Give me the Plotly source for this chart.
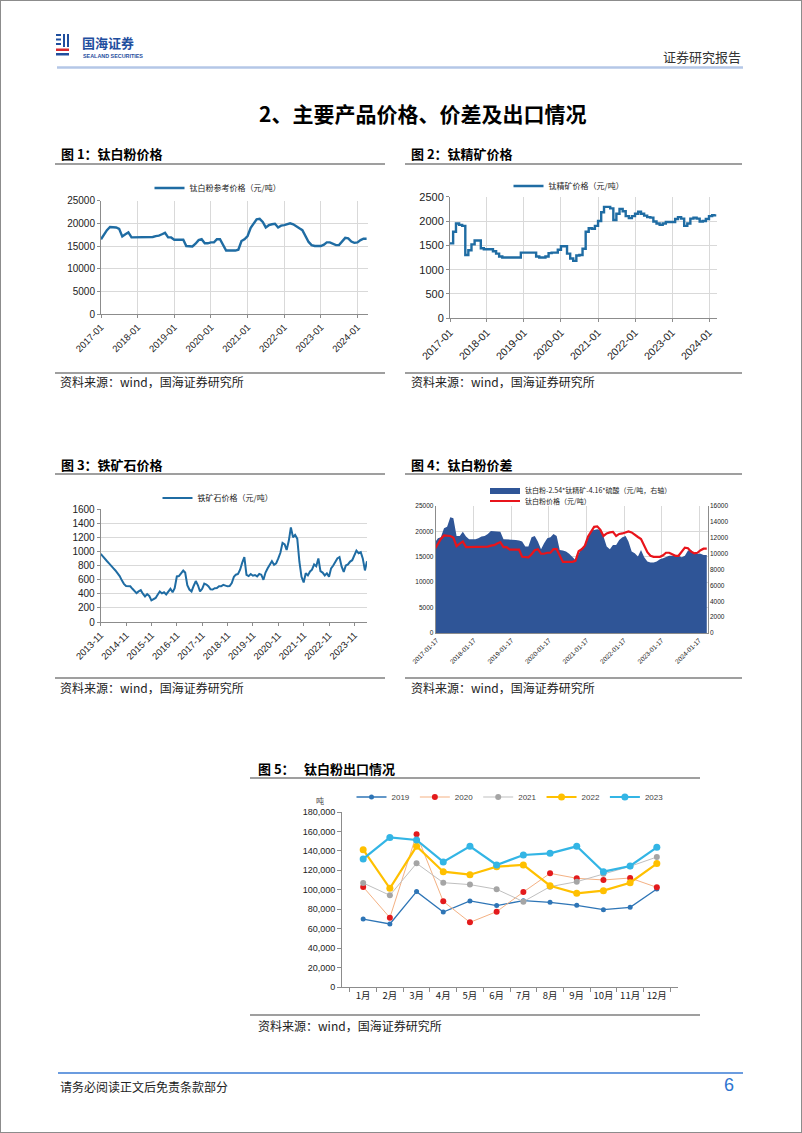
import pandas as pd
import plotly.graph_objects as go

W, H = 802, 1133

# ---------------- data ----------------
# 钛白粉参考价格（元/吨），月度 2017-01 ~ 2024-04
tio2_dates = pd.date_range('2017-01-01', periods=88, freq='MS')
tio2_price = [16500, 17500, 18500, 19200, 19200, 19100, 18800, 17100, 17600, 18000, 16900, 16900,
              16900, 16900, 17000, 17000, 17000, 17000, 17200, 17300, 17600, 17900, 16900, 16900,
              16400, 16400, 16400, 16400, 15000, 15000, 14900, 15500, 16300, 16500, 15600, 15600,
              15800, 15800, 16500, 16500, 15200, 14000, 14000, 14000, 14000, 14200, 16100, 16500,
              17200, 19000, 20000, 20900, 21000, 20300, 19100, 19600, 19800, 19900, 19100, 19500,
              19600, 19800, 20000, 19800, 19300, 18900, 18500, 17300, 15900, 15200, 15000, 15000,
              15000, 15300, 15800, 15800, 15500, 15200, 15200, 16000, 16800, 16700, 16000, 15700,
              15800, 16300, 16600, 16600]

# 钛精矿价格（元/吨），月度 2017-01 ~ 2024-03
ilm_dates = pd.date_range('2017-01-01', periods=87, freq='MS')
ilm_price = [1540, 1780, 1950, 1920, 1900, 1300, 1400, 1520, 1600, 1600, 1440, 1420,
             1420, 1420, 1380, 1330, 1270, 1250, 1250, 1250, 1250, 1250, 1250, 1350,
             1350, 1350, 1350, 1350, 1270, 1250, 1250, 1270, 1340, 1350, 1350, 1410,
             1480, 1480, 1330, 1230, 1180, 1290, 1300, 1430, 1780, 1850, 1840, 1900,
             2000, 2180, 2290, 2290, 2260, 2020, 2150, 2250, 2200, 2100, 2060, 2100,
             2150, 2190, 2150, 2110, 2080, 2070, 1990, 1950, 1920, 1950, 1980, 1980,
             1980, 2040, 2080, 2050, 1900, 1950, 2050, 2070, 2050, 1990, 2000, 2040,
             2100, 2120, 2140]

# 铁矿石价格（元/吨），月度 2013-11 ~ 2024-05
ore_dates = pd.date_range('2013-11-01', periods=127, freq='MS')
ore_price = [965, 930, 880, 860, 830, 790, 762, 730, 690, 650, 590, 540,
             510, 504, 505, 470, 440, 409, 433, 450, 400, 362, 395, 370,
             306, 320, 340, 390, 433, 405, 420, 390, 430, 470, 420, 480,
             645, 650, 690, 729, 700, 520, 460, 433, 510, 580, 520, 433,
             470, 545, 530, 504, 462, 460, 478, 480, 505, 505, 525, 510,
             505, 510, 551, 640, 670, 680, 740, 840, 920, 668, 650, 680,
             655, 665, 645, 680, 670, 598, 700, 760, 820, 860, 810, 830,
             900, 980, 1120, 1100, 1020, 1150, 1340, 1200, 1233, 1180, 850, 640,
             560, 690, 660, 715, 740, 815, 790, 900, 720, 700, 660, 690,
             640, 760, 800, 855, 900, 920, 786, 710, 800, 815, 856, 875,
             940, 1010, 975, 990, 900, 730, 860]

# 钛白粉-2.54*钛精矿-4.16*硫酸（元/吨，右轴），月度 2017-01 ~ 2024-04
spread = [11390, 11940, 12060, 13190, 13400, 14575, 14450, 12230, 12230, 12770, 12150, 11810,
          11810, 11810, 11940, 12150, 12230, 12480, 12860, 12860, 12830, 12770, 11810, 11810,
          11810, 11730, 11730, 11640, 11520, 10890, 10890, 12060, 12230, 11520, 10560, 11310,
          11940, 12060, 12480, 12230, 10470, 10390, 10260, 9970, 9630, 9210, 9970, 10680,
          10890, 12060, 12900, 12980, 13070, 12980, 12150, 10890, 10560, 11100, 11100, 11730,
          12060, 12230, 11520, 10260, 10050, 9630, 10470, 9550, 9000, 8880, 8880, 9000,
          9300, 9420, 9550, 9720, 9720, 9720, 9720, 9550, 9720, 10390, 10470, 9970,
          9970, 9970, 9840, 9840]

# 钛白粉出口（吨）
months = ['1月', '2月', '3月', '4月', '5月', '6月', '7月', '8月', '9月', '10月', '11月', '12月']
exp_2019 = [69900, 64800, 98100, 77100, 88500, 83700, 88800, 87100, 84000, 79500, 81900, 100800]
exp_2020 = [102900, 71300, 157000, 88100, 66500, 77500, 97700, 116900, 111800, 110100, 112100, 102500]
exp_2021 = [107000, 94300, 127200, 107300, 105300, 100500, 87800, 103200, 108300, 116600, 124100, 133700]
exp_2022 = [141300, 101500, 144700, 118600, 115500, 123800, 125500, 104200, 96300, 99100, 107300, 126900]
exp_2023 = [131700, 153900, 151200, 128600, 144700, 125500, 135800, 137500, 144700, 118600, 124500, 143700]

FONT = 'Liberation Sans, Noto Sans CJK SC, sans-serif'
CJK = 'Noto Sans CJK SC, sans-serif'
BLUE = '#1F6CA3'
GRID = '#D9D9D9'
AXIS = '#8C8C8C'


def dx(x0, x1):
    return [x0 / W, x1 / W]


def dy(y0, y1):
    return [1 - y1 / H, 1 - y0 / H]


fig = go.Figure()

# 图1
fig.add_trace(go.Scatter(x=tio2_dates, y=tio2_price, mode='lines', name='钛白粉参考价格（元/吨）',
                         line=dict(color=BLUE, width=2.4), xaxis='x', yaxis='y', legend='legend'))
# 图2
fig.add_trace(go.Scatter(x=ilm_dates, y=ilm_price, mode='lines', name='钛精矿价格（元/吨）',
                         line=dict(color=BLUE, width=2.4, shape='hv'), xaxis='x2', yaxis='y2', legend='legend2'))
# 图3
fig.add_trace(go.Scatter(x=ore_dates, y=ore_price, mode='lines', name='铁矿石价格（元/吨）',
                         line=dict(color=BLUE, width=2), xaxis='x3', yaxis='y3', legend='legend3'))
# 图4
fig.add_trace(go.Scatter(x=tio2_dates, y=spread, mode='lines', fill='tozeroy',
                         name='钛白粉-2.54*钛精矿-4.16*硫酸（元/吨，右轴）',
                         line=dict(color='#2F5597', width=0), fillcolor='#2F5597',
                         xaxis='x4', yaxis='y4', legend='legend4'))
fig.add_trace(go.Scatter(x=tio2_dates, y=tio2_price, mode='lines', name='钛白粉价格（元/吨）',
                         line=dict(color='#E8141B', width=2.2), xaxis='x4', yaxis='y5', legend='legend5'))
# 图5
series5 = [('2019', exp_2019, '#2E75B6', '#2E75B6', 1.3, 5),
           ('2020', exp_2020, '#F4B183', '#E31A1C', 1.0, 6),
           ('2021', exp_2021, '#BFBFBF', '#A5A5A5', 1.0, 6),
           ('2022', exp_2022, '#FFC000', '#FFC000', 2.2, 7),
           ('2023', exp_2023, '#33B5E5', '#33B5E5', 2.2, 7)]
for name, vals, lc, mc, lw, ms in series5:
    fig.add_trace(go.Scatter(x=months, y=vals, mode='lines+markers', name=name,
                             line=dict(color=lc, width=lw), marker=dict(color=mc, size=ms),
                             xaxis='x5', yaxis='y6', legend='legend6'))

tick_small = dict(family=FONT, size=9.5, color='#222')
date_axis = dict(type='date', showline=True, linecolor=AXIS, linewidth=1, ticks='outside',
                 ticklen=3, tickcolor=AXIS, showgrid=True, gridcolor=GRID, gridwidth=1,
                 tickangle=-45, zeroline=False, automargin=False)
val_axis = dict(showline=True, linecolor=AXIS, linewidth=1, ticks='outside', ticklen=3,
                tickcolor=AXIS, showgrid=True, gridcolor=GRID, gridwidth=1, zeroline=False,
                tickformat='d', automargin=False)

layout = dict(
    width=W, height=H, margin=dict(l=0, r=0, t=0, b=0, autoexpand=False),
    paper_bgcolor='white', plot_bgcolor='white', showlegend=True,
    font=dict(family=FONT, color='#222'),
    xaxis=dict(date_axis, domain=dx(101, 368), anchor='y', range=['2017-01-01', '2024-04-15'],
               tick0='2017-01-01', dtick='M12', tickformat='%Y-%m', tickfont=dict(tick_small, size=9.5)),
    yaxis=dict(val_axis, domain=dy(200.7, 314), anchor='x', range=[0, 25000], dtick=5000,
               tickfont=dict(tick_small, size=10)),
    xaxis2=dict(date_axis, domain=dx(450, 717), anchor='y2', range=['2017-01-01', '2024-03-20'],
                tick0='2017-01-01', dtick='M12', tickformat='%Y-%m', tickfont=dict(tick_small, size=10.5)),
    yaxis2=dict(val_axis, domain=dy(196.7, 318.3), anchor='x2', range=[0, 2500], dtick=500,
                tickfont=dict(tick_small, size=11)),
    xaxis3=dict(date_axis, domain=dx(100.7, 367), anchor='y3', range=['2013-11-01', '2024-05-01'],
                tick0='2013-11-01', dtick='M12', tickformat='%Y-%m', showgrid=False,
                tickfont=dict(tick_small, size=9.5)),
    yaxis3=dict(val_axis, domain=dy(509, 622), anchor='x3', range=[0, 1600], dtick=200,
                tickfont=dict(tick_small, size=10)),
    xaxis4=dict(date_axis, domain=dx(435.7, 707.7), anchor='y4', range=['2017-01-10', '2024-04-10'],
                tick0='2017-01-17', dtick='M12', tickformat='%Y-%m-%d', ticklen=0,
                tickfont=dict(tick_small, size=6.5)),
    yaxis4=dict(val_axis, domain=dy(506, 633), anchor='x4', side='right', range=[0, 16000], dtick=2000,
                showgrid=False, ticks='', tickfont=dict(tick_small, size=6.5)),
    yaxis5=dict(val_axis, domain=dy(506, 633), anchor='x4', overlaying='y4', side='left',
                range=[0, 25000], dtick=5000, ticks='', tickfont=dict(tick_small, size=6.5)),
    xaxis5=dict(type='category', domain=dx(342, 678), anchor='y6', showline=True, linecolor=AXIS,
                ticks='outside', tickson='boundaries', ticklen=4, tickcolor=AXIS, showgrid=False,
                tickangle=0, automargin=False, tickfont=dict(tick_small, size=9.5, family=CJK)),
    yaxis6=dict(domain=dy(812, 987), anchor='x5', showline=True, linecolor=AXIS, ticks='outside',
                ticklen=4, tickcolor=AXIS, showgrid=False, zeroline=False, range=[0, 180000],
                dtick=20000, tickformat=',', automargin=False, tickfont=dict(tick_small, size=9)),
)

leg_common = dict(bgcolor='rgba(0,0,0,0)', font=dict(family=CJK, size=8, color='#222'),
                  itemwidth=30, tracegroupgap=0)
layout['legend'] = dict(leg_common, x=218 / W, y=1 - 188 / H, xanchor='center', yanchor='middle')
layout['legend2'] = dict(leg_common, x=569 / W, y=1 - 186 / H, xanchor='center', yanchor='middle')
layout['legend3'] = dict(leg_common, x=218 / W, y=1 - 498 / H, xanchor='center', yanchor='middle')
layout['legend4'] = dict(leg_common, x=485 / W, y=1 - 490 / H, xanchor='left', yanchor='middle',
                         font=dict(family=CJK, size=7, color='#222'))
layout['legend5'] = dict(leg_common, x=485 / W, y=1 - 501 / H, xanchor='left', yanchor='middle',
                         font=dict(family=CJK, size=7, color='#222'))
layout['legend6'] = dict(leg_common, x=510 / W, y=1 - 797 / H, xanchor='center', yanchor='middle',
                         orientation='h', font=dict(family=FONT, size=8, color='#444'))

# page decorations
shapes = []


def hline(y, x0, x1, color, width):
    shapes.append(dict(type='line', xref='paper', yref='paper', x0=x0 / W, x1=x1 / W,
                       y0=1 - y / H, y1=1 - y / H, line=dict(color=color, width=width)))


def rect(x0, y0, x1, y1, color):
    shapes.append(dict(type='rect', xref='paper', yref='paper', x0=x0 / W, x1=x1 / W,
                       y0=1 - y1 / H, y1=1 - y0 / H, line=dict(width=0), fillcolor=color))


shapes.append(dict(type='rect', xref='paper', yref='paper', x0=0, y0=0, x1=1, y1=1,
                   line=dict(color='#8C8C8C', width=2)))
hline(67.5, 57, 743, '#B4C7E7', 2.5)
for yy in (164, 373, 474, 678):
    hline(yy, 55, 385, '#7F7F7F', 1.5)
    hline(yy, 405, 742, '#7F7F7F', 1.5)
hline(778, 250, 700, '#7F7F7F', 1.5)
hline(1015, 250, 700, '#7F7F7F', 1.5)
hline(1073, 58, 743, '#3A7BD5', 1.5)

# logo
LB = '#1F4E9E'
rect(56, 34, 61, 36, LB)
rect(56, 38.5, 61, 40.5, LB)
rect(63, 34, 65, 47, LB)
rect(67, 34, 69, 47, LB)
rect(56, 43, 61, 45, LB)
rect(56, 48.5, 69, 51, '#D7282F')
rect(56, 53, 69, 55.5, LB)
layout['shapes'] = shapes

ann = []


def text(x, y, s, size, anchor='left', color='#000', family=CJK):
    ann.append(dict(x=x / W, y=1 - y / H, xref='paper', yref='paper', text=s, showarrow=False,
                    xanchor=anchor, yanchor='middle', font=dict(family=family, size=size, color=color)))


text(80, 42.5, '<b>国海证券</b>', 13, color=LB)
text(81, 55.5, '<b>SEALAND SECURITIES</b>', 5.4, color=LB, family=FONT)
text(743, 57, '证券研究报告', 13, anchor='right', color='#333')
text(423, 113, '<b>2、主要产品价格、价差及出口情况</b>', 21, anchor='center')

text(59, 153, '<b>图 1：钛白粉价格</b>', 13)
text(409, 153, '<b>图 2：钛精矿价格</b>', 13)
text(59, 464, '<b>图 3：铁矿石价格</b>', 13)
text(409, 464, '<b>图 4：钛白粉价差</b>', 13)
text(256, 768, '<b>图 5：</b>', 13)
text(302, 768, '<b>钛白粉出口情况</b>', 13)

src = '资料来源：wind，国海证券研究所'
text(58, 381, src, 12, color='#222')
text(409, 381, src, 12, color='#222')
text(58, 687, src, 12, color='#222')
text(409, 687, src, 12, color='#222')
text(256, 1025, src, 12, color='#222')

text(320, 800, '吨', 8, anchor='center', color='#444')

text(58, 1086, '请务必阅读正文后免责条款部分', 12, color='#222')
text(736, 1085, '6', 18, anchor='right', color='#2E75D0', family=FONT)
layout['annotations'] = ann

fig.update_layout(layout)
fig.write_html("out.html", config={'displayModeBar': False},
               post_script="document.body.style.margin='0';")
